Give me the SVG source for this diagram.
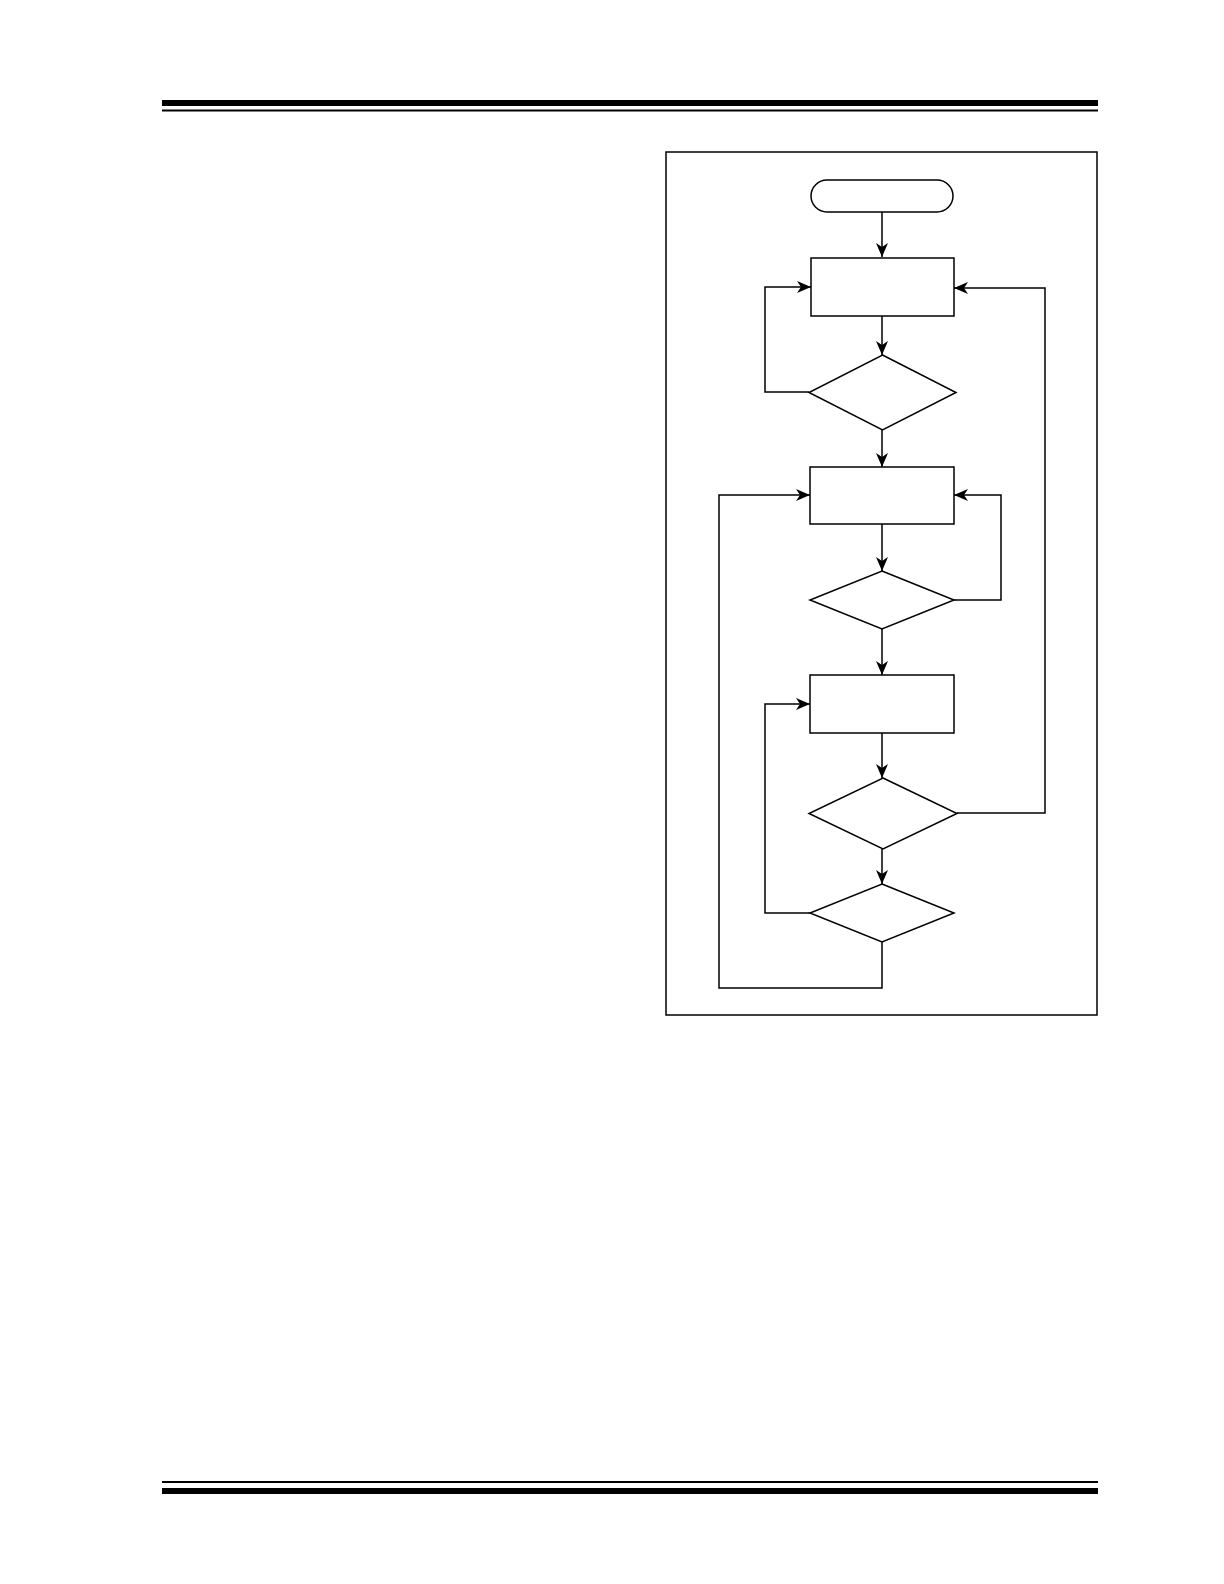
<svg xmlns="http://www.w3.org/2000/svg" width="1224" height="1584" viewBox="0 0 1224 1584">
<style>
.node{fill:#fff;stroke:#000;stroke-width:1.5}
.conn{fill:none;stroke:#000;stroke-width:1.5}
.bar{fill:#000}
</style>
<defs>
<marker id="arr" markerWidth="14" markerHeight="12" viewBox="0 0 14 12" refX="14" refY="6" orient="auto" markerUnits="userSpaceOnUse">
<path d="M0,0 L14,6 L0,12 L4,6 Z" fill="#000"/>
</marker>
</defs>
<rect width="1224" height="1584" fill="#fff"/>
<g id="header">
<rect class="bar" x="162" y="100" width="936" height="6"/>
<rect class="bar" x="162" y="109.5" width="936" height="2"/>
</g>
<g id="footer">
<rect class="bar" x="162" y="1481" width="936" height="2"/>
<rect class="bar" x="162" y="1488" width="936" height="6"/>
</g>
<rect id="frame" x="666" y="152" width="431" height="863" fill="none" stroke="#000" stroke-width="1.5"/>
<g id="connectors">
<path class="conn" d="M882,212 V257" marker-end="url(#arr)"/>
<path class="conn" d="M882,316 V355" marker-end="url(#arr)"/>
<path class="conn" d="M809,392 H765 V287 H811" marker-end="url(#arr)"/>
<path class="conn" d="M882,430 V467" marker-end="url(#arr)"/>
<path class="conn" d="M882,524 V571" marker-end="url(#arr)"/>
<path class="conn" d="M954,600 H1001 V495 H954" marker-end="url(#arr)"/>
<path class="conn" d="M882,629 V675" marker-end="url(#arr)"/>
<path class="conn" d="M882,733 V778" marker-end="url(#arr)"/>
<path class="conn" d="M957,813 H1045 V288 H954" marker-end="url(#arr)"/>
<path class="conn" d="M882,849 V884" marker-end="url(#arr)"/>
<path class="conn" d="M810,913 H765 V704 H810" marker-end="url(#arr)"/>
<path class="conn" d="M882,942 V988 H719 V495 H810" marker-end="url(#arr)"/>
</g>
<g id="start"><rect class="node" x="811" y="180" width="142" height="32" rx="16" ry="16"/></g>
<g id="process1"><rect class="node" x="811" y="258" width="143" height="58"/></g>
<g id="decision1"><polygon class="node" points="882.5,355 956,392.5 882.5,430 809,392.5"/></g>
<g id="process2"><rect class="node" x="810" y="467" width="144" height="57"/></g>
<g id="decision2"><polygon class="node" points="882,571 954,600 882,629 810,600"/></g>
<g id="process3"><rect class="node" x="810" y="675" width="144" height="58"/></g>
<g id="decision3"><polygon class="node" points="883,778 957,813.5 883,849 809,813.5"/></g>
<g id="decision4"><polygon class="node" points="882,884 954,913 882,942 810,913"/></g>
</svg>
